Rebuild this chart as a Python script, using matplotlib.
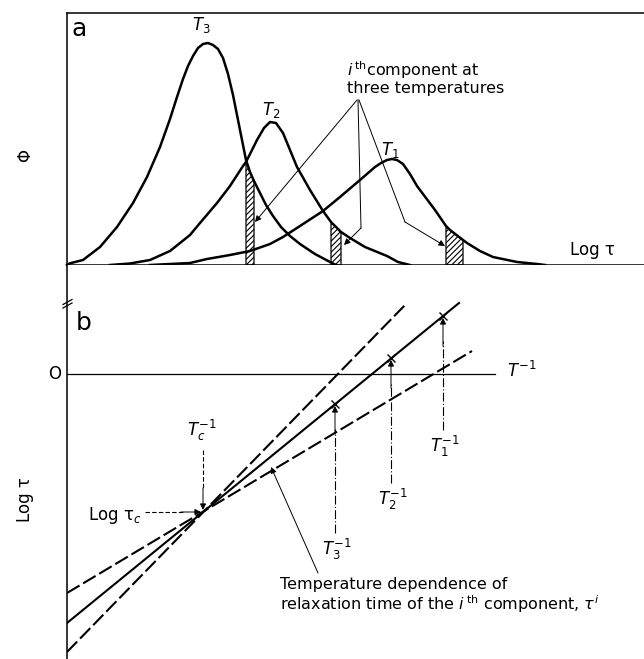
import matplotlib
matplotlib.use("Agg")
import matplotlib.pyplot as plt

# panel a: distribution of relaxation times at three temperatures (arbitrary units)
log_tau_T3 = [0.0, 0.3, 1.6, 3.3, 5.0, 6.6, 8.0, 9.3, 10.3, 11.0, 11.6, 12.1, 12.6, 13.1, 13.6,
              14.1, 14.6, 15.1, 15.6, 16.1, 16.6, 17.1, 17.6, 17.9, 18.3, 18.7, 19.3, 19.9,
              20.6, 21.4, 22.3, 23.3, 24.8, 26.3, 26.9]
phi_T3 = [0.0, 0.17, 0.5, 1.8, 3.8, 6.2, 8.8, 11.8, 14.6, 16.8, 18.6, 19.9, 20.9, 21.7, 22.1,
          22.2, 22.0, 21.6, 20.7, 19.1, 17.0, 14.5, 12.0, 10.5, 9.3, 8.4, 7.2, 6.0,
          4.9, 3.8, 2.9, 2.1, 1.1, 0.3, 0.0]

log_tau_T2 = [4.3, 6.3, 8.3, 10.3, 12.3, 13.3, 15.0, 16.3, 17.6, 17.9, 19.0, 19.7, 20.3,
              20.9, 21.6, 22.3, 23.0, 24.3, 25.6, 26.4, 27.4, 28.3, 29.8, 32.0, 33.1, 34.3]
phi_T2 = [0.0, 0.15, 0.5, 1.4, 3.0, 4.2, 6.2, 7.9, 9.9, 10.3, 12.5, 13.7, 14.3,
          14.2, 13.2, 11.5, 9.8, 7.5, 5.4, 4.3, 3.3, 2.7, 1.8, 0.9, 0.3, 0.0]

log_tau_T1 = [8.3, 12.3, 14.0, 16.3, 18.3, 20.3, 21.6, 23.3, 25.6, 27.3, 29.3, 30.8, 31.4,
              32.0, 32.5, 33.0, 33.6, 34.3, 35.0, 36.8, 37.9, 38.3, 39.6, 40.0, 41.3, 42.6,
              45.0, 47.0, 47.8]
phi_T1 = [0.0, 0.2, 0.6, 1.0, 1.4, 2.1, 2.8, 3.9, 5.4, 6.8, 8.5, 9.8, 10.2,
          10.5, 10.6, 10.5, 10.1, 9.1, 7.9, 5.5, 3.9, 3.5, 2.5, 2.2, 1.4, 0.8,
          0.3, 0.1, 0.0]

# i-th component (hatched strip) under each curve
comp_T3 = (17.9, 18.7)
comp_T2 = (26.4, 27.4)
comp_T1 = (37.9, 39.6)

# panel b: log tau against 1/T
steep_x, steep_y = [0.0, 34.0], [-27.8, 7.1]
mid_x, mid_y = [0.0, 39.2], [-24.9, 7.1]
shallow_x, shallow_y = [0.0, 40.5], [-21.9, 2.3]
inv_T_marks = [26.8, 32.4, 37.6]
log_tau_marks = [-3.0, 1.6, 5.8]
inv_Tc, log_tau_c = 13.6, -13.8

plt.rcParams["hatch.linewidth"] = 0.8
W, H = 644, 659
fig = plt.figure(figsize=(W / 100, H / 100), dpi=100)
ax_a = fig.add_axes([67 / W, (H - 265) / H, 577 / W, 252 / H])
ax_b = fig.add_axes([67 / W, 0, 577 / W, (H - 265) / H])

arrow = dict(arrowstyle="-|>", lw=0.7, color="k", mutation_scale=9, shrinkA=0, shrinkB=0)

# ---------- panel a ----------
ax_a.set_xlim(0, 57.7)
ax_a.set_ylim(0, 25.2)
ax_a.spines["right"].set_visible(False)
for s in ["top", "left", "bottom"]:
    ax_a.spines[s].set_linewidth(1.1)
ax_a.set_xticks([])
ax_a.set_yticks([])

for x, y, comp in [(log_tau_T3, phi_T3, comp_T3), (log_tau_T2, phi_T2, comp_T2),
                   (log_tau_T1, phi_T1, comp_T1)]:
    ax_a.plot(x, y, color="k", lw=1.8, solid_joinstyle="round", clip_on=False)
    mask = [comp[0] <= v <= comp[1] for v in x]
    ax_a.fill_between(x, 0, y, where=mask, facecolor="white", edgecolor="k",
                      hatch="//////", lw=0.9)

ax_a.text(1.2, 23.6, "a", fontsize=18, ha="center", va="center")
ax_a.text(13.4, 24.0, "$T_3$", fontsize=12, ha="center", va="center")
ax_a.text(20.4, 15.5, "$T_2$", fontsize=12, ha="center", va="center")
ax_a.text(32.3, 11.5, "$T_1$", fontsize=12, ha="center", va="center")
ax_a.text(28.0, 19.5, r"$i^{\,\mathrm{th}}$component at", fontsize=11.5, ha="left", va="center")
ax_a.text(28.0, 17.7, "three temperatures", fontsize=11.5, ha="left", va="center")
ax_a.text(52.5, 1.5, "Log τ", fontsize=12, ha="center", va="center")
ax_a.text(-4.2, 11.0, "Φ", fontsize=12, ha="center", va="center", rotation=90, clip_on=False)

ax_a.annotate("", xy=(18.8, 4.3), xytext=(29.0, 16.5), arrowprops=arrow)
ax_a.plot([29.1, 29.4], [16.5, 3.7], color="k", lw=0.7)
ax_a.annotate("", xy=(27.7, 2.0), xytext=(29.4, 3.7), arrowprops=arrow)
ax_a.plot([29.2, 33.8], [16.5, 4.3], color="k", lw=0.7)
ax_a.annotate("", xy=(37.8, 1.9), xytext=(33.8, 4.3), arrowprops=arrow)

# ---------- panel b ----------
ax_b.set_xlim(0, 57.7)
ax_b.set_ylim(-28.5, 10.9)
for s in ["top", "right", "bottom"]:
    ax_b.spines[s].set_visible(False)
ax_b.spines["left"].set_linewidth(1.1)
ax_b.set_xticks([])
ax_b.set_yticks([])

ax_b.plot([0, 42.8], [0, 0], color="k", lw=0.9)
ax_b.plot(steep_x, steep_y, color="k", lw=1.5, linestyle=(0, (7, 2)))
ax_b.plot(mid_x, mid_y, color="k", lw=1.5)
ax_b.plot(shallow_x, shallow_y, color="k", lw=1.5, linestyle=(0, (7, 2)))
ax_b.plot(inv_T_marks, log_tau_marks, "x", color="k", ms=6, mew=1.0)

# break mark on the axis
ax_b.plot([-0.4, 0.5], [6.6, 7.1], color="k", lw=0.9, clip_on=False)
ax_b.plot([-0.4, 0.5], [6.95, 7.45], color="k", lw=0.9, clip_on=False)

drop_to = [-15.9, -10.9, -5.6]
labels = ["$T_3^{-1}$", "$T_2^{-1}$", "$T_1^{-1}$"]
for x, y, y_end, lab in zip(inv_T_marks, log_tau_marks, drop_to, labels):
    ax_b.plot([x, x], [y_end, y - 2.5], color="k", lw=0.8, linestyle=(0, (8, 2, 1, 2)))
    ax_b.annotate("", xy=(x, y - 0.2), xytext=(x, y - 3.0), arrowprops=arrow)
    ax_b.text(x + 0.2, y_end - 1.6, lab, fontsize=12, ha="center", va="center")

# T_c and log tau_c
ax_b.plot([inv_Tc, inv_Tc], [-7.6, log_tau_c + 2.2], color="k", lw=0.8, linestyle=(0, (4, 2)))
ax_b.annotate("", xy=(inv_Tc, log_tau_c + 0.2), xytext=(inv_Tc, log_tau_c + 2.4), arrowprops=arrow)
ax_b.text(inv_Tc - 0.1, -5.6, "$T_c^{-1}$", fontsize=12, ha="center", va="center")
ax_b.plot([7.8, inv_Tc - 2.0], [log_tau_c, log_tau_c], color="k", lw=0.8, linestyle=(0, (4, 2)))
ax_b.annotate("", xy=(inv_Tc - 0.2, log_tau_c), xytext=(inv_Tc - 2.2, log_tau_c), arrowprops=arrow)
ax_b.text(7.5, -14.1, "Log τ$_c$", fontsize=12, ha="right", va="center")

ax_b.text(1.7, 5.1, "b", fontsize=18, ha="center", va="center")
ax_b.text(-1.2, 0.0, "O", fontsize=12, ha="center", va="center", clip_on=False)
ax_b.text(44.0, 0.3, "$T^{-1}$", fontsize=12, ha="left", va="center")
ax_b.text(-4.2, -12.6, "Log τ", fontsize=12, ha="center", va="center", rotation=90, clip_on=False)

ax_b.annotate("", xy=(20.4, -9.3), xytext=(25.1, -19.9), arrowprops=arrow)
ax_b.text(21.3, -21.1, "Temperature dependence of", fontsize=11.5, ha="left", va="center")
ax_b.text(21.3, -23.0, r"relaxation time of the $i^{\,\mathrm{th}}$ component, $\tau^{i}$",
          fontsize=11.5, ha="left", va="center")

fig.savefig("out.png", dpi=100)
